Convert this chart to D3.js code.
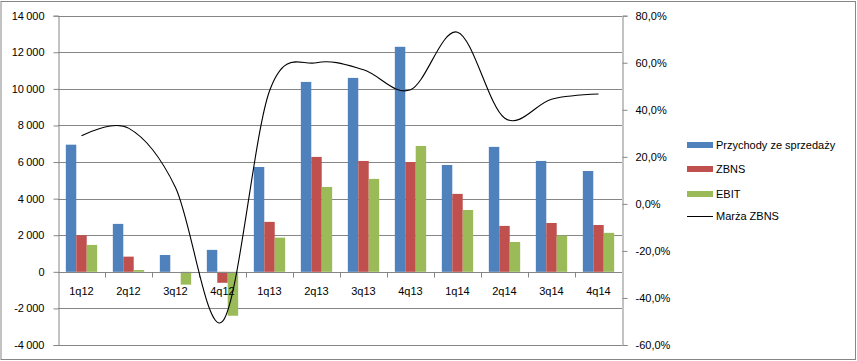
<!DOCTYPE html>
<html><head><meta charset="utf-8">
<script src="https://cdn.jsdelivr.net/npm/d3@7"></script>
<style>
body{margin:0;background:#fff;}
text{font-family:"Liberation Sans",Arial,sans-serif;font-size:11px;fill:#000;}
</style></head>
<body><svg id="c" width="857" height="361"></svg>
<script>
const categories = ["1q12","2q12","3q12","4q12","1q13","2q13","3q13","4q13","1q14","2q14","3q14","4q14"];
const przychody = [6950, 2620, 920, 1200, 5730, 10380, 10600, 12300, 5840, 6830, 6060, 5510];
const zbns = [2000, 830, 0, -600, 2730, 6280, 6060, 6000, 4260, 2510, 2670, 2560];
const ebit = [1470, 100, -700, -2400, 1870, 4640, 5080, 6880, 3380, 1630, 1980, 2130];
const marza = [0.29, 0.322, 0.07, -0.50, 0.48, 0.60, 0.57, 0.485, 0.73, 0.365, 0.445, 0.467];
const leftTicks = [-4000,-2000,0,2000,4000,6000,8000,10000,12000,14000];
const rightTicks = [-0.6,-0.4,-0.2,0,0.2,0.4,0.6,0.8];
const seriesNames = ["Przychody ze sprzedaży","ZBNS","EBIT","Marża ZBNS"];
const colors = ["#4F81BD","#C0504D","#9BBB59","#000000"];

const svg = d3.select("#c");
const L = 58, R = 622, T = 15.7, B = 345;
const grid = "#868686";

svg.append("rect").attr("x",1).attr("y",1.5).attr("width",854.5).attr("height",358)
  .attr("fill","#fff").attr("stroke",grid).attr("stroke-width",1);

const x = d3.scaleBand().domain(categories).range([L,R]);
const y = d3.scaleLinear().domain([-4000,14000]).range([B,T]);
const y2 = d3.scaleLinear().domain([-0.6,0.8]).range([B,T]);

// gridlines
svg.append("g").selectAll("line").data(leftTicks).join("line")
  .attr("x1",L).attr("x2",R).attr("y1",d=>Math.round(y(d))+0.5).attr("y2",d=>Math.round(y(d))+0.5)
  .attr("stroke",grid).attr("stroke-width",1);

// bars
const sub = d3.scaleBand().domain([0,1,2]).range([0,x.bandwidth()]).paddingInner(0).paddingOuter(0.75);
const allSeries = [przychody, zbns, ebit];
allSeries.forEach((s,i)=>{
  svg.append("g").selectAll("rect").data(s).join("rect")
    .attr("x",(d,j)=>x(categories[j])+sub(i))
    .attr("width",sub.bandwidth())
    .attr("y",d=>Math.min(y(d),y(0)))
    .attr("height",d=>Math.abs(y(d)-y(0)))
    .attr("fill",colors[i]);
});

// left axis
const la = svg.append("g").attr("transform",`translate(${L+0.5},0)`)
  .call(d3.axisLeft(y).tickValues(leftTicks).tickSize(5).tickPadding(9)
    .tickFormat(d=>d3.format(",")(d).replace(/,/g,"\u2009").replace("\u2212","-")));
la.select(".domain").attr("stroke",grid);
la.selectAll(".tick line").attr("stroke",grid);
la.selectAll("text").style("font-size","11px").attr("fill","#000");

// right axis
const ra = svg.append("g").attr("transform",`translate(${R+0.5},0)`)
  .call(d3.axisRight(y2).tickValues(rightTicks).tickSize(5).tickPadding(8)
    .tickFormat(d=>d3.format(".1f")(d*100).replace(".",",").replace("\u2212","-")+"%"));
ra.select(".domain").attr("stroke",grid);
ra.selectAll(".tick line").attr("stroke",grid);
ra.selectAll("text").style("font-size","11px").attr("fill","#000");

// category axis at zero
const ca = svg.append("g").attr("transform",`translate(0,${Math.round(y(0))+0.5})`);
ca.append("line").attr("x1",L).attr("x2",R).attr("stroke",grid);
ca.selectAll("line.t").data(categories.slice(1)).join("line").attr("class","t")
  .attr("x1",d=>Math.round(x(d))+0.5).attr("x2",d=>Math.round(x(d))+0.5).attr("y1",0).attr("y2",5).attr("stroke",grid);
ca.selectAll("text").data(categories).join("text")
  .attr("x",d=>x(d)+x.bandwidth()/2).attr("y",22).attr("text-anchor","middle").text(d=>d);

// line
const line = d3.line().x((d,i)=>x(categories[i])+x.bandwidth()/2).y(d=>y2(d)).curve(d3.curveCardinal.tension(0));
svg.append("path").attr("d",line(marza)).attr("fill","none").attr("stroke","#000").attr("stroke-width",1.1);

// legend
const lg = svg.append("g");
const ly = [145,169,194,216];
seriesNames.forEach((n,i)=>{
  if(i<3) lg.append("rect").attr("x",687).attr("y",ly[i]-3).attr("width",26).attr("height",6).attr("fill",colors[i]);
  else lg.append("line").attr("x1",687).attr("x2",713).attr("y1",ly[i]+0.5).attr("y2",ly[i]+0.5).attr("stroke","#000");
  lg.append("text").attr("x",716).attr("y",ly[i]+4).text(n);
});
</script></body></html>
